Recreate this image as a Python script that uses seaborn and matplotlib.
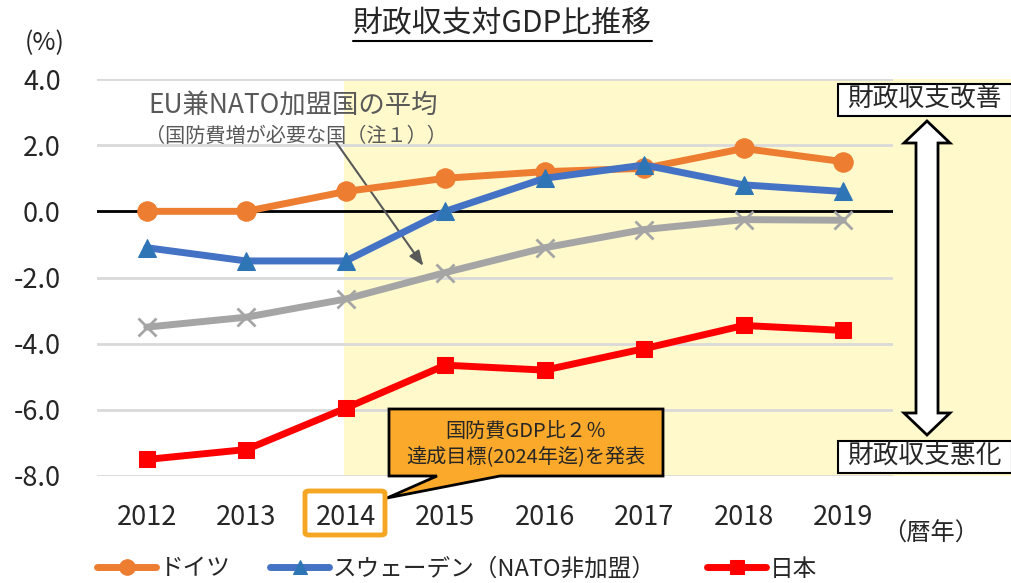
import numpy as np
import pandas as pd
import seaborn as sns
import matplotlib.pyplot as plt
from matplotlib.patches import Polygon, Rectangle, FancyBboxPatch
from matplotlib.lines import Line2D

# 財政収支対GDP比 (%)
years = [2012, 2013, 2014, 2015, 2016, 2017, 2018, 2019]
germany = [0.0, 0.0, 0.6, 1.0, 1.2, 1.3, 1.9, 1.5]
sweden = [-1.1, -1.5, -1.5, 0.0, 1.0, 1.4, 0.8, 0.6]
eu_nato = [-3.5, -3.2, -2.65, -1.85, -1.1, -0.55, -0.25, -0.27]
japan = [-7.5, -7.2, -5.95, -4.65, -4.8, -4.15, -3.45, -3.6]
yticks = [4.0, 2.0, 0.0, -2.0, -4.0, -6.0, -8.0]

sns.set_style('white')
plt.rcParams['font.family'] = ['Noto Sans CJK JP', 'DejaVu Sans']

W, H = 1011, 583
fig = plt.figure(figsize=(W / 100, H / 100), dpi=100)
ax = fig.add_axes([97 / W, 1 - 476 / H, (893 - 97) / W, (476 - 79) / H])


def px(x, y):
    # pixel (from top-left) -> figure fraction
    return (x / W, 1 - y / H)


# 背景の黄色 (2014年以降)
ax.axvspan(2013.98, 2020.7, color='#FFF9CC', zorder=0, lw=0, clip_on=False)
ax.set_axisbelow(True)
ax.yaxis.grid(True, color='#D9D9D9', lw=2)
ax.xaxis.grid(False)
ax.axhline(0, color='black', lw=2, zorder=1)

sns.lineplot(x=years, y=eu_nato, ax=ax, color='#A5A5A5', lw=5, marker='x',
             ms=13, mew=2, mec='#A5A5A5', zorder=3)
sns.lineplot(x=years, y=germany, ax=ax, color='#ED7D31', lw=5, marker='o',
             ms=14, mec='#ED7D31', label='ドイツ', zorder=4)
sns.lineplot(x=years, y=sweden, ax=ax, color='#4472C4', lw=5, marker='^',
             ms=13, mfc='#2E75B6', mec='#2E75B6', label='スウェーデン（NATO非加盟）', zorder=5)
sns.lineplot(x=years, y=japan, ax=ax, color='#FF0000', lw=5, marker='s',
             ms=12, mec='#FF0000', label='日本', zorder=6)

handles, labels = ax.get_legend_handles_labels()
if ax.get_legend() is not None:
    ax.get_legend().remove()

ax.set_xlim(2011.5, 2019.5)
ax.set_ylim(-8, 4)
ax.set_xticks(years)
ax.set_xticklabels([str(y) for y in years])
ax.set_yticks(yticks)
ax.set_yticklabels([f'{v:.1f}' for v in yticks])
ax.tick_params(axis='y', length=0, labelsize=19.5, pad=26)
ax.tick_params(axis='x', length=0, labelsize=19.5, pad=20)
for s in ax.spines.values():
    s.set_visible(False)
ax.set_xlabel('')
ax.set_ylabel('')

# 凡例 (3項目を個別に配置)
for h, l, x0 in zip(handles, labels, [97, 270, 707]):
    fig.legend([h], [l], loc='center left', bbox_to_anchor=px(x0, 569),
               frameon=False, fontsize=17, handlelength=2.5, markerscale=0.8,
               handletextpad=0.15, borderaxespad=0, borderpad=0)

# タイトル (下線付き)
title = fig.text(*px(502, 24), '財政収支対GDP比推移', ha='center', va='center', fontsize=21.5)
fig.text(*px(45, 43), '(%)', ha='center', va='center', fontsize=18)
fig.text(*px(931, 534), '（暦年）', ha='center', va='center', fontsize=17.5)

# EU兼NATO加盟国の平均 注記
ax.text(2013.47, 3.2, 'EU兼NATO加盟国の平均', ha='center', va='center',
        fontsize=19, color='#595959')
ax.text(2013.5, 2.27, '（国防費増が必要な国（注１））', ha='center', va='center',
        fontsize=14.5, color='#595959')
ax.annotate('', xy=(2014.78, -1.65), xytext=(2013.9, 2.1),
            arrowprops=dict(arrowstyle='-|>,head_length=0.9,head_width=0.35',
                            color='#595959', lw=1.5, shrinkA=0, shrinkB=0))

# 吹き出し (国防費GDP比2%)
call = [(389, 409), (663, 409), (663, 476), (500, 476), (387, 498),
        (437, 476), (389, 476)]
fig.patches.append(Polygon([px(x, y) for x, y in call], closed=True,
                           transform=fig.transFigure, facecolor='#FBA92A',
                           edgecolor='black', lw=2, zorder=10))
fig.text(*px(526, 432), '国防費GDP比２％', ha='center', va='center', fontsize=14.5, zorder=11)
fig.text(*px(526, 458), '達成目標(2024年迄)を発表', ha='center', va='center', fontsize=14.5, zorder=11)

# 2014 の枠
x0, y0 = px(305, 535)
x1, y1 = px(385, 491)
fig.patches.append(FancyBboxPatch((x0, y0), x1 - x0, y1 - y0,
                                  boxstyle='round,pad=0,rounding_size=0.004',
                                  transform=fig.transFigure, facecolor='none',
                                  edgecolor='#F5A623', lw=3.5, zorder=10))

# 右側: 改善 / 悪化
for label, top in [('財政収支改善', 84), ('財政収支悪化', 441)]:
    rx, ry = px(838, top + 32)
    fig.patches.append(Rectangle((rx, ry), (1012 - 838) / W, 32 / H,
                                 transform=fig.transFigure, facecolor='white',
                                 edgecolor='black', lw=1.5, zorder=10))
    fig.text(*px(924, top + 16), label, ha='center', va='center', fontsize=18.5, zorder=11)

arrow = [(927, 121), (950, 143), (938, 143), (938, 413), (950, 413), (927, 435),
         (904, 413), (916, 413), (916, 143), (904, 143)]
fig.patches.append(Polygon([px(x, y) for x, y in arrow], closed=True,
                           transform=fig.transFigure, facecolor='white',
                           edgecolor='black', lw=2, zorder=10))

# タイトル下線
fig.canvas.draw()
bb = title.get_window_extent(renderer=fig.canvas.get_renderer())
fig.add_artist(Line2D([bb.x0 / W, bb.x1 / W], [px(0, 41)[1]] * 2,
                      transform=fig.transFigure, color='black', lw=1.5))

fig.savefig('out.png', dpi=100)
